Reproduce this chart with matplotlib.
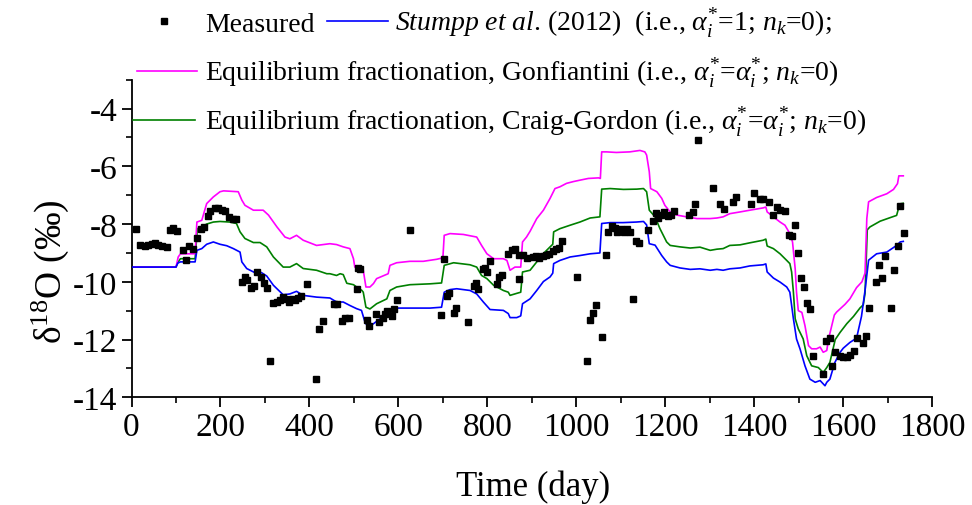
import matplotlib
matplotlib.use("Agg")
import matplotlib.pyplot as plt
from matplotlib.lines import Line2D
from matplotlib.ticker import MultipleLocator

plt.rcParams["font.family"] = ["Liberation Serif", "DejaVu Serif"]
plt.rcParams["mathtext.fontset"] = "custom"
plt.rcParams["mathtext.rm"] = "Liberation Serif"
plt.rcParams["mathtext.it"] = "Liberation Serif:italic"
plt.rcParams["mathtext.bf"] = "Liberation Serif:bold"

# ---------------- data ----------------
measured_day = [10, 18, 30, 38, 45, 53, 60, 68, 79, 87, 93, 102, 115, 123, 130, 138,
                147, 156, 163, 171, 177, 188, 195, 203, 210, 220, 229, 235, 248, 255,
                260, 268, 275, 283, 290, 298, 304, 311, 319, 326, 334, 340, 345, 353,
                360, 368, 375, 380, 395, 415, 422, 430, 455, 463, 473, 480, 488, 508,
                510, 514, 529, 535, 550, 557, 565, 570, 575, 585, 590, 596, 626, 695,
                703, 709, 713, 724, 730, 757, 770, 775, 780, 790, 795, 800, 806, 821,
                827, 833, 847, 855, 862, 870, 872, 879, 888, 902, 909, 917, 924, 932,
                939, 947, 954, 960, 967, 1002, 1023, 1031, 1037, 1044, 1057, 1067,
                1072, 1080, 1087, 1092, 1100, 1107, 1115, 1121, 1128, 1134, 1142,
                1160, 1172, 1179, 1184, 1190, 1197, 1205, 1212, 1220, 1254, 1262,
                1267, 1274, 1308, 1323, 1331, 1353, 1359, 1392, 1400, 1413, 1420,
                1434, 1441, 1450, 1458, 1469, 1477, 1485, 1492, 1499, 1505, 1512,
                1519, 1525, 1533, 1555, 1562, 1570, 1575, 1582, 1593, 1600, 1608,
                1615, 1624, 1630, 1644, 1651, 1659, 1673, 1681, 1687, 1694, 1708,
                1715, 1722, 1728, 1737]
measured_d18o = [-8.16, -8.71, -8.76, -8.71, -8.68, -8.64, -8.73, -8.76, -8.79, -8.19,
                 -8.13, -8.25, -8.91, -9.26, -8.77, -8.85, -8.48, -8.16, -8.10, -7.72,
                 -7.56, -7.46, -7.43, -7.52, -7.56, -7.75, -7.81, -7.81, -9.99, -9.83,
                 -9.95, -10.22, -10.15, -9.66, -9.83, -10.04, -10.22, -12.75, -10.74,
                 -10.70, -10.62, -10.51, -10.59, -10.70, -10.61, -10.62, -10.56, -10.49,
                 -10.07, -13.37, -11.63, -11.37, -10.76, -10.76, -11.36, -11.26, -11.26,
                 -10.24, -9.52, -9.55, -11.32, -11.54, -11.13, -11.40, -11.26, -11.13,
                 -11.01, -11.19, -10.94, -10.62, -8.19, -11.14, -9.22, -10.49, -10.40,
                 -11.09, -10.90, -11.40, -10.13, -10.03, -10.24, -9.57, -9.52, -9.66,
                 -9.29, -10.07, -9.84, -9.76, -9.03, -8.91, -8.87, -9.89, -9.06, -9.08,
                 -9.17, -9.14, -9.11, -9.17, -9.12, -9.08, -9.03, -8.94, -8.85, -8.83,
                 -8.60, -9.83, -12.73, -11.32, -11.08, -10.79, -11.92, -9.06, -8.27,
                 -8.06, -8.15, -8.27, -8.18, -8.27, -8.18, -8.27, -10.61, -8.60, -8.64,
                 -8.21, -7.90, -7.60, -7.79, -7.69, -7.58, -7.72, -7.69, -7.55, -7.69,
                 -7.58, -7.29, -5.09, -6.74, -7.29, -7.49, -7.25, -7.05, -7.32, -6.92,
                 -7.13, -7.13, -7.25, -7.70, -7.42, -7.53, -7.56, -8.37, -8.40, -8.03,
                 -9.00, -9.86, -10.17, -10.74, -10.93, -12.56, -13.20, -12.06, -11.93,
                 -12.91, -12.43, -12.56, -12.62, -12.62, -12.55, -12.38, -11.95, -12.12,
                 -11.86, -10.92, -9.99, -9.41, -9.88, -9.12, -10.92, -9.60, -8.75,
                 -7.37, -8.30]

stumpp_day = [0, 100, 104, 110, 143, 147, 158, 169, 184, 199, 214, 229, 244, 248, 259,
              277, 292, 304, 319, 341, 356, 371, 386, 416, 446, 461, 476, 491, 506, 517,
              525, 532, 544, 559, 577, 581, 596, 626, 671, 697, 703, 716, 731, 761, 776,
              791, 806, 836, 847, 851, 866, 875, 879, 896, 911, 926, 941, 947, 949, 963,
              986, 1008, 1031, 1053, 1057, 1076, 1105, 1135, 1151, 1158, 1164, 1177,
              1192, 1203, 1211, 1233, 1256, 1278, 1301, 1316, 1330, 1345, 1368, 1390,
              1420, 1426, 1429, 1443, 1458, 1473, 1480, 1484, 1488, 1495, 1503, 1514,
              1525, 1537, 1548, 1559, 1563, 1570, 1581, 1593, 1600, 1615, 1630, 1641,
              1649, 1657, 1675, 1698, 1720, 1728, 1735]
stumpp_d18o = [-9.49, -9.49, -9.35, -9.31, -9.31, -8.91, -8.85, -8.70, -8.62, -8.70,
               -8.75, -8.85, -8.97, -9.31, -9.54, -9.68, -9.68, -9.80, -10.12, -10.45,
               -10.42, -10.33, -10.47, -10.53, -10.56, -10.70, -10.70, -10.82, -10.93,
               -10.99, -11.40, -11.57, -11.45, -11.28, -11.13, -10.99, -10.91, -10.91,
               -10.91, -10.88, -10.36, -10.27, -10.24, -10.30, -10.42, -10.70, -10.96,
               -10.99, -11.10, -11.24, -11.24, -11.18, -10.76, -10.59, -10.30, -9.99,
               -9.83, -9.70, -9.37, -9.26, -9.14, -9.09, -9.03, -9.00, -7.98, -7.95,
               -7.95, -7.93, -7.91, -8.03, -8.68, -8.73, -9.09, -9.31, -9.43, -9.52,
               -9.57, -9.55, -9.60, -9.57, -9.60, -9.55, -9.52, -9.45, -9.41, -9.38,
               -9.66, -9.87, -10.01, -10.18, -10.36, -10.82, -11.28, -11.98, -12.33,
               -12.91, -13.37, -13.48, -13.42, -13.60, -13.48, -13.37, -12.80, -12.44,
               -12.30, -12.10, -11.95, -11.20, -10.30, -9.25, -9.03, -8.97, -8.74,
               -8.62, -8.60]

gonf_day = [0, 100, 105, 110, 143, 147, 158, 169, 184, 199, 207, 240, 248, 255, 274,
            296, 308, 327, 345, 356, 371, 386, 416, 446, 461, 476, 491, 499, 502, 514,
            521, 527, 536, 544, 551, 577, 581, 596, 626, 656, 686, 700, 703, 716, 746,
            776, 787, 799, 814, 836, 844, 851, 862, 875, 879, 888, 896, 911, 926, 941,
            952, 963, 978, 993, 1008, 1027, 1050, 1054, 1057, 1068, 1090, 1120, 1143,
            1154, 1158, 1164, 1167, 1181, 1192, 1199, 1211, 1226, 1248, 1271, 1301,
            1316, 1330, 1345, 1368, 1390, 1420, 1426, 1429, 1443, 1458, 1469, 1480,
            1486, 1492, 1495, 1499, 1507, 1514, 1522, 1529, 1540, 1548, 1555, 1563,
            1567, 1580, 1585, 1604, 1615, 1630, 1642, 1649, 1653, 1657, 1675, 1698,
            1713, 1722, 1725, 1735]
gonf_d18o = [-9.49, -9.49, -9.14, -9.03, -9.03, -7.93, -7.87, -7.29, -7.06, -6.88,
             -6.85, -6.88, -7.17, -7.35, -7.52, -7.52, -7.69, -8.10, -8.45, -8.51,
             -8.39, -8.56, -8.74, -8.68, -8.71, -8.79, -8.85, -9.20, -9.49, -9.55,
             -9.60, -10.18, -10.18, -10.06, -9.89, -9.72, -9.43, -9.34, -9.29, -9.29,
             -9.22, -9.17, -8.39, -8.33, -8.36, -8.45, -8.74, -9.03, -9.20, -9.20,
             -9.26, -9.60, -9.49, -9.49, -8.62, -8.45, -8.25, -7.81, -7.52, -7.11,
             -6.77, -6.71, -6.59, -6.53, -6.48, -6.42, -6.40, -6.42, -5.50, -5.50,
             -5.52, -5.50, -5.45, -5.50, -5.61, -6.19, -6.77, -6.88, -7.11, -7.35,
             -7.58, -7.69, -7.75, -7.81, -7.81, -7.79, -7.75, -7.64, -7.58, -7.52,
             -7.44, -7.41, -7.58, -7.75, -7.93, -8.04, -8.33, -8.62, -9.55, -10.36,
             -11.00, -11.06, -11.52, -12.21, -12.32, -12.32, -12.26, -12.44, -12.38,
             -11.98, -11.15, -11.05, -10.78, -10.59, -10.20, -10.00, -9.70, -7.81,
             -7.23, -7.08, -6.95, -6.80, -6.60, -6.33, -6.33]

craig_day = [0, 100, 105, 110, 143, 148, 158, 169, 184, 199, 221, 236, 244, 255, 274,
             289, 304, 319, 341, 356, 371, 386, 416, 439, 446, 461, 469, 476, 484, 499,
             506, 518, 521, 527, 536, 551, 574, 581, 596, 626, 671, 697, 703, 724, 761,
             776, 787, 799, 814, 836, 847, 851, 866, 875, 879, 896, 911, 926, 941, 947,
             949, 963, 986, 1008, 1031, 1053, 1057, 1076, 1106, 1136, 1151, 1158, 1164,
             1177, 1188, 1203, 1211, 1233, 1256, 1278, 1301, 1316, 1330, 1345, 1368,
             1390, 1420, 1426, 1429, 1443, 1458, 1473, 1480, 1484, 1488, 1492, 1499,
             1510, 1518, 1529, 1544, 1555, 1563, 1570, 1582, 1593, 1608, 1623, 1638,
             1645, 1649, 1654, 1660, 1683, 1705, 1720, 1727, 1735]
craig_d18o = [-9.49, -9.49, -9.31, -9.20, -9.20, -8.16, -8.10, -8.00, -7.93, -7.91,
              -7.93, -7.98, -8.27, -8.50, -8.64, -8.64, -8.79, -9.14, -9.49, -9.49,
              -9.37, -9.54, -9.60, -9.72, -9.72, -9.78, -9.72, -9.75, -10.05, -10.10,
              -10.18, -10.30, -10.36, -10.88, -10.94, -10.76, -10.59, -10.30, -10.18,
              -10.10, -10.07, -10.04, -9.43, -9.34, -9.41, -9.49, -9.78, -9.89, -10.12,
              -10.30, -10.36, -10.47, -10.40, -10.36, -9.66, -9.60, -9.31, -9.02, -8.79,
              -8.70, -8.27, -8.16, -8.04, -7.93, -7.79, -7.75, -6.79, -6.77, -6.80,
              -6.79, -6.77, -6.88, -7.52, -7.75, -8.16, -8.62, -8.74, -8.79, -8.83,
              -8.80, -8.91, -8.87, -8.85, -8.74, -8.72, -8.65, -8.56, -8.52, -8.76,
              -8.85, -9.03, -9.26, -9.37, -9.66, -10.36, -11.28, -11.63, -11.98,
              -12.56, -12.91, -12.97, -13.14, -12.97, -12.79, -12.00, -11.75, -11.45,
              -11.20, -10.90, -10.80, -10.40, -8.20, -8.10, -7.90, -7.78, -7.70,
              -7.30, -7.28]

x_ticks = [0, 200, 400, 600, 800, 1000, 1200, 1400, 1600, 1800]
y_ticks = [-14, -12, -10, -8, -6, -4]

# ---------------- figure ----------------
W, H = 972, 506
fig = plt.figure(figsize=(W / 100, H / 100), dpi=100)
ax = fig.add_axes([131.5 / W, 1 - 398.3 / H, (932.2 - 131.5) / W, (398.3 - 80.7) / H])

lw = 1.2
ax.plot(craig_day, craig_d18o, color="#008000", lw=lw, zorder=2)
ax.plot(gonf_day, gonf_d18o, color="#FF00FF", lw=lw, zorder=2)
ax.plot(stumpp_day, stumpp_d18o, color="#0000FF", lw=lw, zorder=3)
ax.plot(measured_day, measured_d18o, "s", color="black", ms=4.5, mec="black", zorder=4)

ax.set_xlim(0, 1800)
ax.set_ylim(-14, -3)
ax.set_xticks(x_ticks)
ax.set_xticklabels([str(t) for t in x_ticks])
ax.set_yticks(y_ticks)
ax.set_yticklabels([str(t) for t in y_ticks])
ax.xaxis.set_minor_locator(MultipleLocator(100))
ax.yaxis.set_minor_locator(MultipleLocator(1))

for s in ("top", "right"):
    ax.spines[s].set_visible(False)
for s in ("left", "bottom"):
    ax.spines[s].set_linewidth(1.3)
ax.tick_params(which="major", direction="out", length=7, width=1.3, labelsize=24, pad=3)
ax.tick_params(which="minor", direction="out", length=4, width=1.2)

fig.text(533 / W, 1 - 487 / H, "Time (day)", fontsize=25, ha="center", va="center")
fig.text(50 / W, 1 - 272 / H, r"$\mathrm{\delta}^{18}$O (‰)", fontsize=27,
         rotation=90, ha="center", va="center")

# ---------------- legend ----------------
def fx(px):
    return px / W


def fy(py):
    return 1 - py / H


leg_fs = 20
fig.add_artist(Line2D([fx(164)], [fy(22)], marker="s", ms=4.5, color="black", lw=0))
fig.text(fx(205), fy(31.5), "Measured", fontsize=leg_fs, va="baseline")
fig.add_artist(Line2D([fx(327), fx(388)], [fy(22), fy(22)], color="#0000FF", lw=lw))
fig.text(fx(395), fy(31.5),
         r"$\mathit{Stumpp\ et\ al}$. (2012)  (i.e., $\alpha_{i}^{*}$=1; $n_{k}$=0);",
         fontsize=leg_fs, va="baseline")

fig.add_artist(Line2D([fx(137), fx(197)], [fy(72), fy(72)], color="#FF00FF", lw=lw))
fig.text(fx(205), fy(81.5),
         r"Equilibrium fractionation, Gonfiantini (i.e., $\alpha_{i}^{*}$=$\alpha_{i}^{*}$; $n_{k}$=0)",
         fontsize=leg_fs, va="baseline")

fig.add_artist(Line2D([fx(133), fx(195)], [fy(121), fy(121)], color="#008000", lw=lw))
fig.text(fx(205), fy(130.5),
         r"Equilibrium fractionation, Craig-Gordon (i.e., $\alpha_{i}^{*}$=$\alpha_{i}^{*}$; $n_{k}$=0)",
         fontsize=leg_fs, va="baseline")

fig.savefig("out.png", dpi=100)
